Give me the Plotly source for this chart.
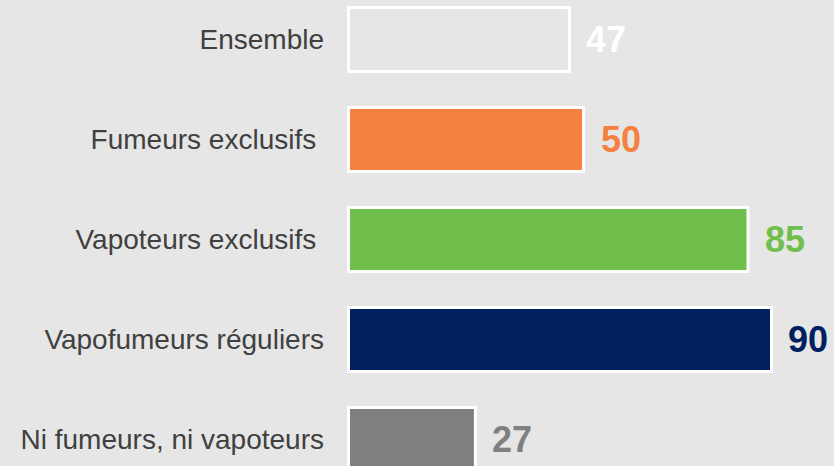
import plotly.graph_objects as go

categories = ["Ensemble", "Fumeurs exclusifs\u00a0", "Vapoteurs exclusifs\u00a0",
              "Vapofumeurs réguliers", "Ni fumeurs, ni vapoteurs"]
values = [47, 50, 85, 90, 27]
bar_colors = ["#E6E6E6", "#F4813F", "#70BF4C", "#002060", "#808080"]
label_colors = ["#FFFFFF", "#F4813F", "#70BF4C", "#002060", "#808080"]

bg = "#E6E6E6"
idx = list(range(len(categories)))

fig = go.Figure()
fig.add_trace(go.Bar(
    x=values, y=idx, orientation="h",
    marker=dict(color=bar_colors, line=dict(color="#FFFFFF", width=3)),
    width=0.64, hoverinfo="skip",
))

for i, (v, c) in enumerate(zip(values, label_colors)):
    fig.add_annotation(x=v, y=i, text=str(v), showarrow=False,
                       xanchor="left", yanchor="middle", xshift=15,
                       font=dict(family="Liberation Sans, Arial, sans-serif", size=36, color=c, weight="bold"))

fig.update_layout(
    width=834, height=466,
    paper_bgcolor=bg, plot_bgcolor=bg,
    margin=dict(l=340, r=0, t=0, b=0),
    showlegend=False,
    font=dict(family="Liberation Sans, Arial, sans-serif", size=28, color="#404040"),
    xaxis=dict(range=[-1.81, 103.3], visible=False, showgrid=False, zeroline=False),
    yaxis=dict(range=[4.265, -0.395], tickmode="array", tickvals=idx, ticktext=categories,
               showgrid=False, zeroline=False, ticks="", ticklabelstandoff=15,
               tickfont=dict(size=28, color="#404040")),
)

fig.write_html("out.html", config={"displayModeBar": False},
               post_script="document.body.style.margin='0';document.body.style.overflow='hidden';")
